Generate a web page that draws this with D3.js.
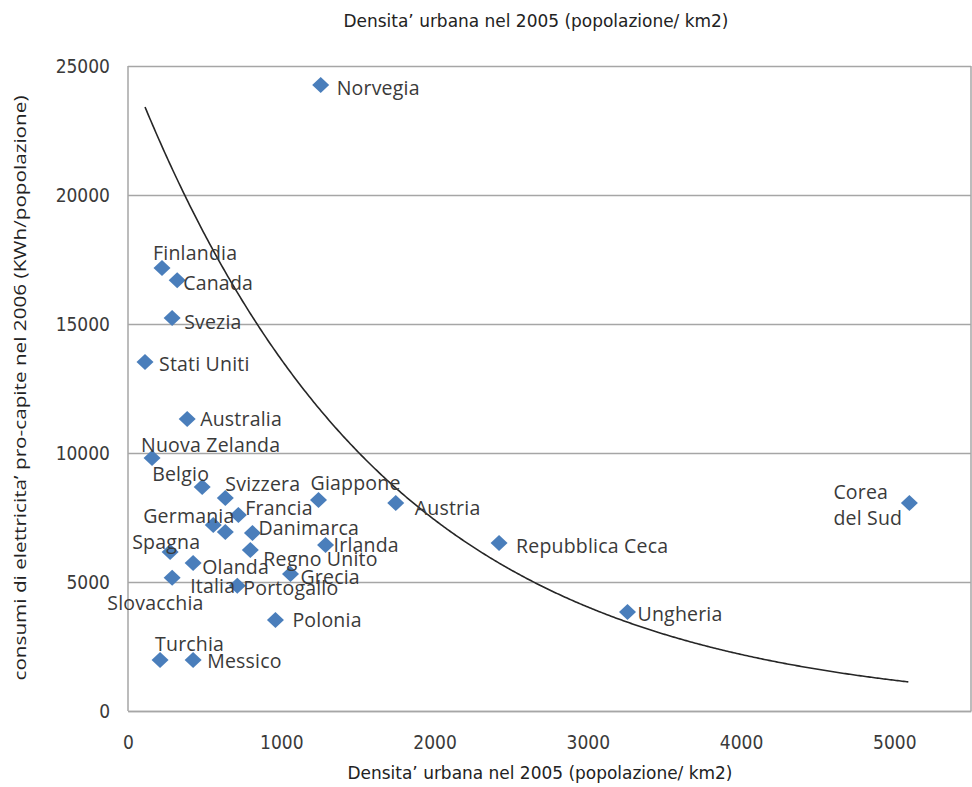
<!DOCTYPE html>
<html>
<head>
<meta charset="utf-8">
<script src="https://cdn.jsdelivr.net/npm/d3@7"></script>
<style>
  html, body { margin: 0; padding: 0; background: #fff; }
  svg { display: block; }
</style>
</head>
<body>
<svg id="chart" width="972" height="787"></svg>
<script>
// ---------- DATA ----------
const countries = ["Norvegia","Finlandia","Canada","Svezia","Stati Uniti","Australia","Nuova Zelanda",
  "Belgio","Svizzera","Giappone","Austria","Francia","Germania","Slovacchia","Danimarca","Spagna",
  "Regno Unito","Olanda","Irlanda","Grecia","Italia","Portogallo","Polonia","Turchia","Messico",
  "Repubblica Ceca","Ungheria","Corea del Sud"];
const density = [1257,222,321,288,111,386,157,484,635,1243,1747,720,556,635,812,275,798,425,1289,1060,288,713,962,209,425,2421,3259,5098];
const consumption = [24260,17170,16700,15230,13530,11320,9810,8680,8260,8180,8060,7600,7210,6940,6900,6160,6240,5740,6430,5310,5160,4850,3530,1980,1980,6510,3840,8060];
const xTicks = [0,1000,2000,3000,4000,5000];
const yTicks = [0,5000,10000,15000,20000,25000];
// exponential trendline y = a * exp(b x)
const trendA = 25048;
const trendB = -0.000609;
const xTitle = "Densita’ urbana nel 2005 (popolazione/ km2)";
const yTitle = "consumi di elettricita’ pro-capite nel 2006 (KWh/popolazione)";

// label placement (pixel offsets from the marker: left edge, vertical centre)
const labelOffsets = [[16,2],[-9,-16],[6,2],[12,3],[14,2],[13,0],[-11,-13],
  [-50,-14],[0,-14],[-8,-17],[19,4],[7,-7],[-70,-9],[-118,71],[6,-5],[-38,-11],
  [13,8],[9,4],[8,-1],[10,2],[18,8],[6,2],[17,0],[-5,-16],[14,1],
  [17,2],[10,2],[-76,0]];

// ---------- LAYOUT ----------
const svg = d3.select("#chart");
const L = 128, R = 971, T = 66, B = 711;
const x = d3.scaleLinear().domain([0,5500]).range([L,R]);
const y = d3.scaleLinear().domain([0,25000]).range([B,T]);
const textCol = "#3a3a3a";
const gridCol = "#a6a6a6";
const labelFont = "'Open Sans', sans-serif";
const tickFont = "'Liberation Sans Narrow', 'DejaVu Sans Condensed', sans-serif";

// gridlines
const grid = svg.append("g").attr("transform", `translate(${L},0)`)
  .call(d3.axisLeft(y).tickValues(yTicks).tickSize(-(R-L)).tickFormat(""));
grid.select(".domain").remove();
grid.selectAll("line").attr("stroke", gridCol).attr("stroke-width", 1.5);

// frame (left + right + bottom)
svg.append("line").attr("x1",L).attr("x2",L).attr("y1",T).attr("y2",B).attr("stroke",gridCol).attr("stroke-width",1.5);
svg.append("line").attr("x1",R).attr("x2",R).attr("y1",T).attr("y2",B).attr("stroke",gridCol).attr("stroke-width",1.5);

// y axis labels
const yAx = svg.append("g").attr("transform", `translate(${L},0)`)
  .call(d3.axisLeft(y).tickValues(yTicks).tickSize(0).tickPadding(18).tickFormat(d3.format("d")));
yAx.select(".domain").remove();
yAx.selectAll("text").attr("font-family", tickFont).attr("font-size", 19).attr("fill", textCol);

// x axis labels
const xAx = svg.append("g").attr("transform", `translate(0,${B})`)
  .call(d3.axisBottom(x).tickValues(xTicks).tickSize(0).tickPadding(25).tickFormat(d3.format("d")));
xAx.select(".domain").attr("stroke", gridCol).attr("stroke-width", 1.5);
xAx.selectAll("text").attr("font-family", tickFont).attr("font-size", 19).attr("fill", textCol);

// titles
svg.append("text").attr("x", 536).attr("y", 27).attr("text-anchor","middle")
  .attr("font-family", tickFont).attr("font-size", 17).attr("fill", "#222")
  .attr("textLength", 385).attr("lengthAdjust","spacingAndGlyphs").text(xTitle);
svg.append("text").attr("x", 540).attr("y", 779).attr("text-anchor","middle")
  .attr("font-family", tickFont).attr("font-size", 17).attr("fill", "#222")
  .attr("textLength", 385).attr("lengthAdjust","spacingAndGlyphs").text(xTitle);
svg.append("text").attr("transform", "translate(26,388) rotate(-90)").attr("text-anchor","middle")
  .attr("font-family", labelFont).attr("font-size", 17).attr("fill", "#222")
  .attr("textLength", 585).attr("lengthAdjust","spacingAndGlyphs").text(yTitle);

// trendline
const xs = d3.range(d3.min(density), d3.max(density) + 1, 10);
const line = d3.line().x(d => x(d)).y(d => y(trendA * Math.exp(trendB * d))).curve(d3.curveLinear);
svg.append("path").datum(xs).attr("d", line).attr("fill","none").attr("stroke","#262626").attr("stroke-width",1.6);

// markers
const pts = countries.map((c,i) => ({c, x: density[i], y: consumption[i], off: labelOffsets[i]}));
svg.append("g").selectAll("path").data(pts).join("path")
  .attr("transform", d => `translate(${x(d.x)},${y(d.y)})`)
  .attr("d", "M0,-8L8.5,0L0,8L-8.5,0Z")
  .attr("fill", "#4a7ebb");

// labels
const lab = svg.append("g").selectAll("text").data(pts).join("text")
  .attr("x", d => x(d.x) + d.off[0])
  .attr("y", d => y(d.y) + d.off[1])
  .attr("font-family", labelFont).attr("font-size", 19.5).attr("fill", textCol)
  .attr("letter-spacing", 0.2)
  .attr("dominant-baseline", "central");
lab.each(function(d) {
  const parts = d.c === "Corea del Sud" ? ["Corea", "del Sud"] : [d.c];
  const t = d3.select(this);
  if (parts.length === 1) { t.text(parts[0]); return; }
  parts.forEach((p, k) => {
    t.append("tspan").attr("x", x(d.x) + d.off[0]).attr("y", y(d.y) + d.off[1] + (k === 0 ? -12 : 14)).text(p);
  });
});
</script>
</body>
</html>
